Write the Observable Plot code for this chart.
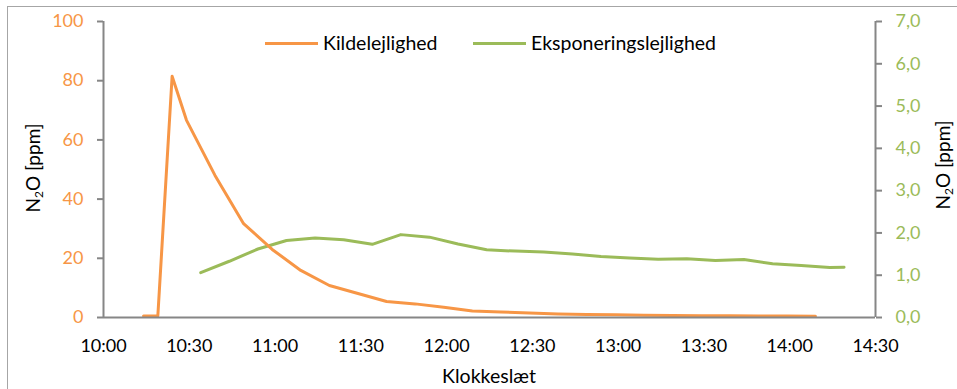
<!DOCTYPE html>
<html>
<head>
<meta charset="utf-8">
<script src="https://cdn.jsdelivr.net/npm/d3@7"></script>
<script src="https://cdn.jsdelivr.net/npm/@observablehq/plot@0.6"></script>
<style>
  html, body { margin: 0; padding: 0; background: #fff; }
  body { width: 957px; height: 389px; position: relative; overflow: hidden; font-family: Lato, "Open Sans", sans-serif; }
  #frame { position: absolute; left: 7px; top: 6px; width: 960px; height: 400px; border: 1px solid #a6a6a6; box-sizing: border-box; }
  #chart { position: absolute; left: 0; top: 0; }
  .legend { position: absolute; top: 31px; height: 24px; font-size: 19.5px; line-height: 24px; color: #000; display: flex; align-items: center; white-space: nowrap; }
  .legend .sw { display: inline-block; width: 53px; height: 3px; margin-right: 5px; }
  .ytitle { position: absolute; font-size: 19px; line-height: 22px; color: #000; transform: translate(-50%, -50%) rotate(-90deg); white-space: nowrap; }
  .ytitle sub { font-size: 12px; vertical-align: -3px; line-height: 0; }
  #xtitle { position: absolute; left: 489px; top: 366px; transform: translateX(-50%); font-size: 19.5px; line-height: 19px; white-space: nowrap; }
</style>
</head>
<body>
<div id="frame"></div>
<div id="chart"></div>
<div class="legend" style="left:265px"><span class="sw" style="background:#F79646"></span><span id="lg1"></span></div>
<div class="legend" style="left:473px"><span class="sw" style="background:#9BBB59"></span><span id="lg2"></span></div>
<div class="ytitle" style="left:33px; top:168px">N<sub>2</sub>O [ppm]</div>
<div class="ytitle" style="left:943px; top:165px">N<sub>2</sub>O [ppm]</div>
<div id="xtitle"></div>
<script>
const seriesNames = ["Kildelejlighed", "Eksponeringslejlighed"];
const xTitle = "Klokkeslæt";

const sourceTimes = ["10:14","10:19","10:24","10:29","10:39","10:49","10:59","11:09","11:19","11:29","11:39","11:49","11:59","12:09","12:19","12:29","12:39","12:49","12:59","13:09","13:19","13:29","13:39","13:49","13:59","14:09"];
const sourceValues = [0.5,0.5,81.5,66.7,48.0,31.7,23.0,15.9,10.8,8.1,5.4,4.6,3.5,2.2,1.9,1.5,1.2,1.0,0.9,0.8,0.7,0.6,0.6,0.5,0.5,0.4];

const exposureTimes = ["10:34","10:44","10:54","11:04","11:14","11:24","11:34","11:44","11:54","12:04","12:14","12:24","12:34","12:44","12:54","13:04","13:14","13:24","13:34","13:44","13:54","14:04","14:14","14:19"];
const exposureValues = [1.06,1.33,1.62,1.82,1.88,1.84,1.73,1.96,1.90,1.74,1.60,1.57,1.55,1.50,1.44,1.41,1.38,1.39,1.35,1.37,1.27,1.23,1.18,1.19];

const xTickLabels = ["10:00","10:30","11:00","11:30","12:00","12:30","13:00","13:30","14:00","14:30"];
const leftTicks = [0,20,40,60,80,100];
const rightTicks = [0,1,2,3,4,5,6,7];
const leftMax = 100, rightMax = 7;

const orange = "#F79646", green = "#9BBB59", axisGray = "#868686";

document.getElementById("lg1").textContent = seriesNames[0];
document.getElementById("lg2").textContent = seriesNames[1];
document.getElementById("xtitle").textContent = xTitle;

const toDate = s => { const [h, m] = s.split(":").map(Number); return new Date(Date.UTC(2000, 0, 1, h, m)); };
const ratio = leftMax / rightMax;

const sourceData = sourceTimes.map((t, i) => ({t: toDate(t), v: sourceValues[i]}));
const exposureData = exposureTimes.map((t, i) => ({t: toDate(t), v: exposureValues[i] * ratio}));
const xTicks = xTickLabels.map(toDate);
const fmt = d3.utcFormat("%H:%M");

const plot = Plot.plot({
  width: 957,
  height: 389,
  marginLeft: 103,
  marginRight: 82,
  marginTop: 21,
  marginBottom: 72,
  style: {fontFamily: "Lato, 'Open Sans', sans-serif", fontSize: "18px", background: "transparent", overflow: "visible"},
  x: {type: "utc", domain: [xTicks[0], xTicks[xTicks.length - 1]]},
  y: {domain: [0, leftMax]},
  marks: [
    Plot.axisX({ticks: xTicks, tickFormat: fmt, tickSize: 0, tickPadding: 22, fill: "#000", label: null, fontSize: 18}),
    Plot.axisY({ticks: leftTicks, tickSize: 6, tickPadding: 14, stroke: axisGray, strokeWidth: 2, fill: orange, label: null, fontSize: 18}),
    Plot.axisY({anchor: "right", ticks: rightTicks.map(v => v * ratio), tickFormat: d => (d / ratio).toFixed(1).replace(".", ","), tickSize: 6, tickPadding: 14, stroke: axisGray, strokeWidth: 2, fill: green, label: null, fontSize: 18}),
    Plot.ruleX([xTicks[0], xTicks[xTicks.length - 1]], {stroke: axisGray, strokeWidth: 2}),
    Plot.line(exposureData, {x: "t", y: "v", stroke: green, strokeWidth: 3, curve: "linear"}),
    Plot.line(sourceData, {x: "t", y: "v", stroke: orange, strokeWidth: 3, curve: "linear"}),
    Plot.ruleY([0], {stroke: axisGray, strokeWidth: 2})
  ]
});
document.getElementById("chart").appendChild(plot);
</script>
</body>
</html>
